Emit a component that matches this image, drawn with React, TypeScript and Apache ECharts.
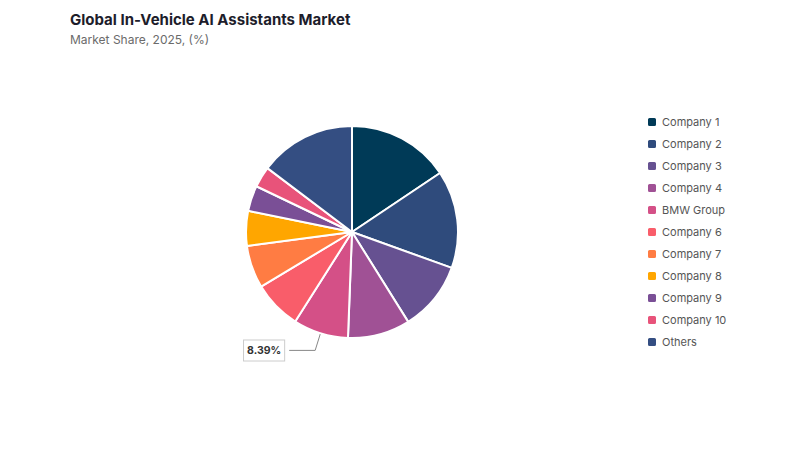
import React, { useEffect, useRef } from "react";
import * as echarts from "echarts";

const companies = [
  "Company 1",
  "Company 2",
  "Company 3",
  "Company 4",
  "BMW Group",
  "Company 6",
  "Company 7",
  "Company 8",
  "Company 9",
  "Company 10",
  "Others",
];
const shares = [15.6, 14.9, 10.6, 9.5, 8.39, 7.4, 6.5, 5.3, 3.9, 3.2, 14.7];
const colors = [
  "#003a57",
  "#2f4b7c",
  "#665191",
  "#a05195",
  "#d45087",
  "#f95d6a",
  "#ff7c43",
  "#ffa600",
  "#7a4f96",
  "#e8537a",
  "#344e82",
];
const labelled = "BMW Group";

const App: React.FC = () => {
  const chartRef = useRef<HTMLDivElement>(null);

  useEffect(() => {
    const chart = echarts.init(chartRef.current!, null, { renderer: "svg" });

    const data = companies.map((name, i) => ({
      name,
      value: shares[i],
      itemStyle: { color: colors[i] },
      label: { show: name === labelled },
      labelLine: { show: name === labelled },
    }));

    chart.setOption({
      animation: false,
      backgroundColor: "#ffffff",
      textStyle: { fontFamily: "Inter, sans-serif" },
      title: {
        text: "Global In-Vehicle AI Assistants Market",
        subtext: "Market Share, 2025, (%)",
        left: 57,
        top: -1,
        itemGap: 6,
        textStyle: { fontSize: 15, fontWeight: "bold", color: "#1d1d2b" },
        subtextStyle: { fontSize: 12, color: "#6b6b6b" },
      },
      legend: {
        orient: "vertical",
        left: 633,
        top: 103,
        itemWidth: 10,
        itemHeight: 10,
        itemGap: 10,
        icon: "roundRect",
        textStyle: { fontSize: 11, color: "#555555" },
        data: companies,
      },
      series: [
        {
          type: "pie",
          center: [344, 224],
          radius: 106,
          startAngle: 90,
          clockwise: true,
          itemStyle: { borderColor: "#ffffff", borderWidth: 2 },
          label: {
            position: "outside",
            formatter: "{c}%",
            fontSize: 10.5,
            fontWeight: "bold",
            color: "#333333",
            backgroundColor: "#ffffff",
            borderColor: "#cccccc",
            borderWidth: 1,
            padding: [5, 3, 4, 3],
          },
          labelLine: {
            length: 18,
            length2: 26,
            lineStyle: { color: "#888888", width: 1 },
          },
          emphasis: { disabled: true },
          data,
        },
      ],
    });

    return () => {
      chart.dispose();
    };
  }, []);

  return <div ref={chartRef} style={{ width: 784, height: 434 }}></div>;
};

export default App;
